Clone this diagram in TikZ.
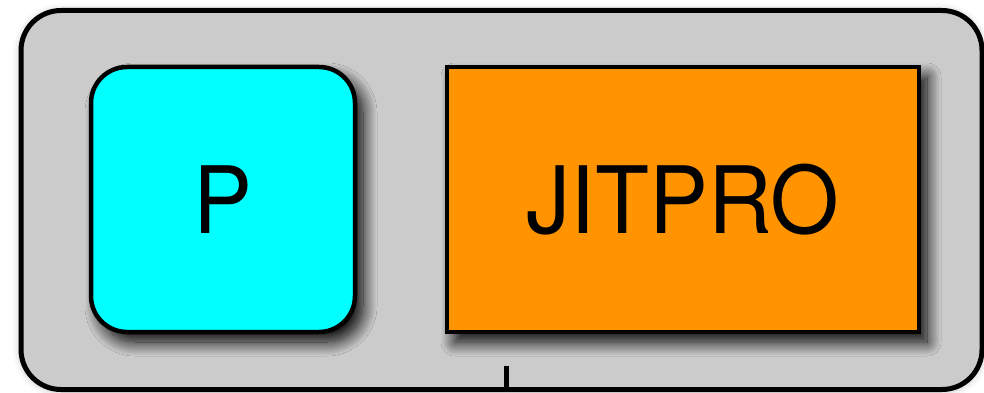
\documentclass[tikz,border=0pt]{standalone}
\usepackage{fontspec}
\setmainfont{TeX Gyre Heros}
\newfontfamily\labelfont[FakeStretch=0.95]{TeX Gyre Heros}
\usetikzlibrary{shadows.blur}
\definecolor{framegray}{RGB}{203,203,203}
\definecolor{pcyan}{RGB}{0,255,255}
\definecolor{jitorange}{RGB}{255,148,0}
\tikzset{
  framebox/.style={draw=black, line width=5pt, fill=framegray, rounded corners=40pt,
    minimum width=961pt, minimum height=379pt, inner sep=0pt,
    blur shadow={shadow xshift=0pt, shadow yshift=-1pt, shadow blur radius=8pt, shadow opacity=30}},
  unitbox/.style={draw=black, line width=4.5pt, minimum height=265pt, inner sep=0pt,
    font=\labelfont\fontsize{93}{93}\selectfont,
    blur shadow={shadow xshift=8pt, shadow yshift=-10pt, shadow blur radius=14pt, shadow blur steps=20, shadow opacity=100}},
  pbox/.style={unitbox, fill=pcyan, rounded corners=36pt, minimum width=264pt},
  jitbox/.style={unitbox, fill=jitorange, minimum width=472pt},
  tickline/.style={draw=black, line width=5pt}
}
\begin{document}
\begin{tikzpicture}[x=1pt, y=-1pt]
  \useasboundingbox (0,0) rectangle (984,393);
  \node[framebox] (frame) at (501.5,200) {};
  \node[pbox] (p) at (223,199.5) {P};
  \node[jitbox] (jit) at (683,199.5) {JITPRO};
  \coordinate (tick) at (506,366);
  \draw[tickline] (tick) -- (tick |- frame.south);
\end{tikzpicture}
\end{document}
